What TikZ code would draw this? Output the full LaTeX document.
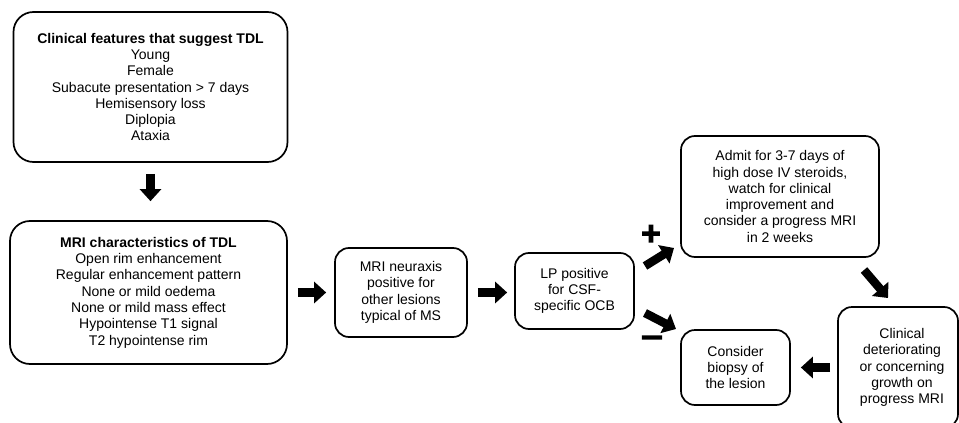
\documentclass[tikz,border=0pt]{standalone}
\usepackage{fontspec}
\setmainfont{Liberation Sans}
\newfontfamily\signfont[FakeBold=7]{Liberation Sans}
\usepackage{tikz}
\usetikzlibrary{arrows.meta, calc}

\begin{document}
\begin{tikzpicture}[
        x=1pt, y=-1pt,
        every node/.style={font=\fontsize{14}{16.3}\selectfont, align=center},
        box/.style={draw, line width=1.7pt, rounded corners=14pt, inner sep=2pt},
        bigbox/.style={box, rounded corners=20pt},
        blockarrow/.style={line width=8.5pt, -{Triangle[length=12pt, width=21pt]}},
        sign/.style={font=\signfont\fontsize{32}{32}\selectfont, inner sep=0pt}
    ]
        \useasboundingbox (0,0) rectangle (959,423);

        % Boxes
        \node [bigbox, minimum width=274pt, minimum height=150pt] (clin) at (150.5,87)
            {\textbf{Clinical features that suggest TDL}\\ Young\\ Female\\ Subacute presentation > 7 days\\ Hemisensory loss\\ Diplopia\\ Ataxia};
        \node [bigbox, minimum width=277pt, minimum height=143pt] (mri) at (148.5,292.5)
            {\textbf{MRI characteristics of TDL}\\ Open rim enhancement\\ Regular enhancement pattern\\ None or mild oedema\\ None or mild mass effect\\ Hypointense T1 signal\\ T2 hypointense rim};
        \node [box, minimum width=132pt, minimum height=89pt] (neur) at (401,292.5)
            {MRI neuraxis\\ positive for\\ other lesions\\ typical of MS};
        \node [box, minimum width=119pt, minimum height=76pt] (lp) at (574.5,291)
            {LP positive\\ for CSF-\\ specific OCB};
        \node [box, minimum width=198pt, minimum height=121pt] (admit) at (780,196.5)
            {Admit for 3-7 days of\\ high dose IV steroids,\\ watch for clinical\\ improvement and\\ consider a progress MRI\\ in 2 weeks};
        \node [box, minimum width=120pt, minimum height=121pt] (worse) at (898,367.5)
            {\hspace*{8pt}Clinical\\ \hspace*{8pt}deteriorating\\ \hspace*{8pt}or concerning\\ \hspace*{8pt}growth on\\ \hspace*{8pt}progress MRI};
        \node [box, minimum width=109pt, minimum height=75pt] (biopsy) at (735.5,367.5)
            {Consider\\ biopsy of\\ the lesion};

        % Signs
        \node [sign] (plus) at (651,235) {+};
        \node [sign] (minus) at (652,341) {\textendash};

        % Arrows
        \coordinate (pos tail) at (645,266);
        \coordinate (pos tip) at (674,248);
        \coordinate (neg tail) at (645,313);
        \coordinate (neg tip) at (676,329);
        \coordinate (prog tail) at (864,270);
        \coordinate (prog tip) at (888,298);

        \draw[blockarrow, shorten <=11pt, shorten >=19pt] (clin.south) -- (clin.south |- mri.north);
        \draw[blockarrow, shorten <=10pt, shorten >=8pt] (mri.east) -- (mri.east -| neur.west);
        \draw[blockarrow, shorten <=10pt, shorten >=7pt] (neur.east) -- (neur.east -| lp.west);
        \draw[blockarrow] (pos tail) -- (pos tip);
        \draw[blockarrow] (neg tail) -- (neg tip);
        \draw[blockarrow] (prog tail) -- (prog tip);
        \draw[blockarrow, shorten <=7pt, shorten >=10pt] (worse.west) -- (worse.west -| biopsy.east);
    \end{tikzpicture}
\end{document}
